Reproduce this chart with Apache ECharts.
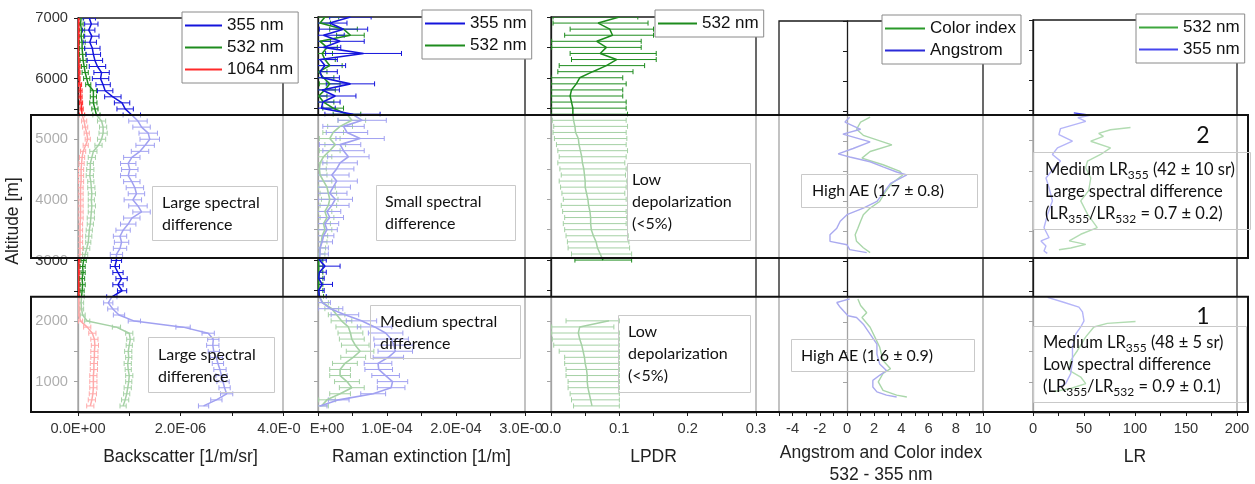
<!DOCTYPE html>
<html><head><meta charset="utf-8">
<script src="https://cdn.jsdelivr.net/npm/echarts@6/dist/echarts.min.js"></script>
<style>html,body{margin:0;padding:0;background:#fff}#c{width:1255px;height:484px}</style>
</head><body><div id="c"></div>
<script>
// ---------------- DATA ----------------
// altitude grid [m] for panels 1-2
const altA = [7000,6900,6800,6700,6600,6500,6400,6300,6200,6100,6000,5900,5800,5700,5600,5500,5400,5300,5200,5100,5000,4900,4800,4700,4600,4500,4400,4300,4200,4100,4000,3900,3800,3700,3600,3500,3400,3300,3200,3100,3000,2900,2800,2700,2600,2500,2400,2300,2200,2100,2000,1900,1800,1700,1600,1500,1400,1300,1200,1100,1000,900,800,700,600];
// backscatter [x1e-6 1/m/sr]
const bsc355 = [0.22,0.26,0.21,0.27,0.23,0.28,0.30,0.33,0.38,0.46,0.44,0.49,0.53,0.68,0.86,0.92,1.05,1.17,1.24,1.37,1.40,1.31,1.21,1.05,0.98,1.01,0.98,1.05,1.11,1.14,1.07,1.17,1.24,1.05,0.98,0.88,0.82,0.85,0.82,0.75,0.75,0.72,0.78,0.85,0.78,0.86,0.66,0.59,0.68,0.80,1.10,2.05,2.54,2.64,2.63,2.65,2.70,2.73,2.77,2.80,2.83,2.86,2.90,2.70,2.45];
const bsc355Err = [0.12,0.13,0.12,0.14,0.13,0.15,0.14,0.15,0.16,0.15,0.16,0.14,0.15,0.16,0.15,0.16,0.17,0.18,0.17,0.18,0.19,0.18,0.17,0.16,0.15,0.16,0.15,0.16,0.17,0.16,0.17,0.18,0.17,0.16,0.15,0.14,0.13,0.14,0.13,0.12,0.10,0.09,0.10,0.11,0.10,0.09,0.10,0.09,0.10,0.11,0.12,0.14,0.12,0.11,0.12,0.11,0.12,0.11,0.12,0.11,0.12,0.11,0.12,0.11,0.10];
const bsc532 = [0.06,0.05,0.07,0.06,0.08,0.08,0.09,0.10,0.12,0.14,0.17,0.20,0.30,0.30,0.30,0.33,0.36,0.46,0.49,0.49,0.46,0.40,0.30,0.27,0.24,0.24,0.23,0.25,0.26,0.27,0.26,0.27,0.26,0.25,0.24,0.22,0.21,0.20,0.17,0.14,0.11,0.09,0.10,0.08,0.09,0.08,0.07,0.06,0.07,0.09,0.18,0.75,1.00,1.02,1.00,0.98,0.99,0.97,0.98,1.00,0.99,0.97,0.95,0.92,0.88];
const bsc532Err = [0.05,0.05,0.06,0.05,0.06,0.05,0.06,0.06,0.05,0.06,0.06,0.05,0.06,0.06,0.07,0.06,0.07,0.08,0.07,0.08,0.08,0.07,0.07,0.07,0.06,0.07,0.07,0.06,0.07,0.07,0.06,0.07,0.06,0.07,0.06,0.06,0.06,0.05,0.06,0.05,0.05,0.05,0.04,0.05,0.05,0.04,0.05,0.05,0.04,0.05,0.05,0.08,0.07,0.07,0.06,0.07,0.06,0.07,0.06,0.07,0.06,0.07,0.06,0.07,0.06];
const bsc1064 = [0.01,0.01,0.01,0.01,0.01,0.01,0.01,0.015,0.02,0.02,0.02,0.04,0.05,0.05,0.06,0.07,0.08,0.12,0.14,0.17,0.19,0.15,0.10,0.08,0.07,0.06,0.06,0.06,0.05,0.05,0.05,0.05,0.05,0.05,0.04,0.04,0.04,0.04,0.04,0.04,0.02,0.015,0.015,0.015,0.015,0.015,0.015,0.015,0.02,0.02,0.05,0.18,0.28,0.32,0.33,0.32,0.32,0.31,0.31,0.30,0.30,0.30,0.29,0.27,0.24];
const bsc1064Err = [0.02,0.02,0.02,0.02,0.02,0.02,0.02,0.02,0.02,0.02,0.02,0.03,0.03,0.03,0.03,0.03,0.05,0.05,0.05,0.05,0.05,0.05,0.05,0.05,0.05,0.05,0.05,0.05,0.05,0.05,0.05,0.05,0.05,0.05,0.05,0.05,0.05,0.05,0.05,0.05,0.02,0.02,0.02,0.02,0.02,0.02,0.02,0.02,0.02,0.02,0.04,0.07,0.07,0.07,0.07,0.07,0.07,0.07,0.07,0.07,0.07,0.07,0.07,0.07,0.07];
// Raman extinction [x1e-5 1/m]
const ram355 = [4.7,1.7,3.7,0.8,3.2,0.8,6.6,0.3,1.0,0.3,0.6,4.7,0.6,2.5,0.7,0.5,5.0,6.4,3.7,4.2,6.1,3.2,3.7,4.4,3.2,2.7,2.0,2.7,2.2,1.7,2.5,2.0,1.3,1.7,1.0,1.3,0.8,0.6,0.3,0.3,0.2,1.0,0.2,0.1,0.6,0.1,0.2,0.6,1.8,3.9,6.3,8.2,9.8,10.6,11.0,11.2,10.2,8.7,8.8,9.8,10.8,10.6,8.0,3.0,0.3];
const ram355Err = [3.0,2.5,3.5,3.0,3.5,2.5,5.5,2.5,3.0,2.5,2.5,3.5,2.5,3.0,2.5,2.0,4.0,3.5,3.0,3.0,3.5,3.0,3.0,3.0,2.5,2.5,2.5,3.0,2.5,2.5,2.5,2.5,2.0,2.0,2.0,1.5,1.5,1.5,1.2,1.2,1.0,2.2,1.0,0.8,1.5,0.8,1.0,1.2,1.8,2.0,2.2,2.5,2.5,2.5,2.8,2.5,2.2,2.0,2.0,2.0,2.2,2.0,1.8,1.5,1.0];
const ram532 = [1.0,0.3,3.7,4.7,0.3,1.3,0.6,1.0,1.7,0.1,0.8,1.7,1.0,0.1,0.8,2.2,4.2,4.9,3.2,2.2,1.7,2.5,1.7,0.8,0.3,0.2,0.3,0.8,1.3,1.5,1.7,1.5,1.0,1.3,0.8,1.0,0.6,0.5,0.3,0.2,0.1,0.1,0.1,0.1,0.1,0.1,0.2,0.7,2.0,2.7,3.4,4.4,4.7,4.9,5.4,6.1,5.1,3.9,3.2,3.2,4.2,4.9,3.2,1.3,0.5];
const ram532Err = [2.0,1.5,2.0,2.0,1.5,1.5,1.5,1.5,1.8,1.2,1.5,1.5,1.5,1.2,1.5,1.5,2.0,2.0,1.8,1.5,1.5,1.5,1.5,1.2,1.0,1.0,1.0,1.2,1.2,1.2,1.2,1.2,1.0,1.0,1.0,1.0,0.8,0.8,0.8,0.8,0.6,0.6,0.6,0.6,0.6,0.6,0.6,0.8,1.0,1.2,1.5,1.8,1.8,1.8,2.0,2.0,1.8,1.8,1.5,1.5,1.8,1.8,1.5,1.2,1.0];
// LPDR 532 nm
const lpdrAltA = [7000,6900,6800,6700,6600,6500,6400,6300,6200,6100,6000,5900,5800,5700,5600,5500,5400,5300,5200,5100,5000,4900,4800,4700,4600,4500,4400,4300,4200,4100,4000,3900,3800,3700,3600,3500,3400,3300,3200,3100,3000];
const lpdrA = [0.100,0.069,0.086,0.090,0.067,0.081,0.072,0.096,0.081,0.061,0.042,0.037,0.030,0.028,0.030,0.032,0.032,0.033,0.035,0.036,0.040,0.041,0.043,0.045,0.046,0.048,0.049,0.050,0.050,0.052,0.054,0.055,0.057,0.058,0.058,0.059,0.062,0.066,0.068,0.072,0.076];
const lpdrLoA = [0.003,0.003,0.028,0.020,0.001,0.001,0.028,0.030,0.012,0.010,0.000,0.000,0.000,0.000,0.000,0.000,0.000,0.002,0.004,0.003,0.005,0.008,0.010,0.012,0.010,0.013,0.015,0.012,0.014,0.016,0.018,0.015,0.017,0.020,0.018,0.020,0.022,0.024,0.025,0.030,0.035];
const lpdrHiA = [0.127,0.142,0.150,0.150,0.132,0.132,0.154,0.154,0.137,0.120,0.105,0.110,0.105,0.105,0.110,0.110,0.112,0.110,0.112,0.110,0.111,0.110,0.112,0.110,0.108,0.110,0.109,0.111,0.110,0.108,0.110,0.112,0.110,0.111,0.110,0.112,0.113,0.114,0.115,0.118,0.118];
const lpdrAltB = [2000,1900,1800,1700,1600,1500,1400,1300,1200,1100,1000,900,800,700,600];
const lpdrB = [0.085,0.042,0.040,0.042,0.045,0.047,0.049,0.050,0.052,0.053,0.053,0.054,0.056,0.058,0.060];
const lpdrLoB = [0.022,0.001,0.001,0.002,0.004,0.012,0.020,0.020,0.022,0.022,0.025,0.025,0.028,0.030,0.033];
const lpdrHiB = [0.100,0.092,0.100,0.100,0.100,0.100,0.100,0.100,0.100,0.100,0.100,0.100,0.100,0.100,0.100];
// Angstrom exponent and colour index (532-355 nm)
const ae2Alt = [5400,5320,5200,5120,4990,4880,4790,4740,4660,4575,4490,4440,4300,4150,4000,3890,3780,3670,3556,3447,3337,3280,3200,3150];
const ae2 = [0.2,-0.15,1.0,-0.3,1.7,0.45,-0.65,0.2,1.7,2.65,3.65,4.4,3.2,2.7,2.2,1.2,0.0,-0.5,-0.75,-1.25,-1.25,0.0,0.2,1.45];
const ci2Alt = [5400,5320,5200,5100,4940,4830,4720,4610,4500,4440,4300,4150,4000,3890,3780,3670,3556,3447,3337,3230,3150];
const ci2 = [1.7,1.0,0.7,1.2,3.3,1.7,1.1,2.65,3.9,4.1,3.3,2.8,2.4,1.7,1.2,1.0,0.8,0.6,0.7,1.2,1.7];
const ae1Alt = [2380,2320,2240,2100,2070,1960,1795,1630,1465,1300,1190,1110,1025,915,835,780,750];
const ae1 = [0.2,-0.75,-0.5,0.07,0.7,1.2,1.7,2.2,2.2,2.4,2.9,2.4,1.9,1.9,2.2,2.9,3.65];
const ci1Alt = [2380,2270,2150,2070,1910,1745,1580,1355,1220,1140,1000,860,780,750];
const ci1 = [0.8,1.0,1.45,1.1,1.7,2.05,2.4,2.65,3.2,2.65,2.3,2.65,3.65,4.4];
// Lidar ratio [sr]
const lr355Alt = [5460,5420,5380,5320,5200,5100,4990,4880,4770,4660,4550,4380,4215,4000,3780,3556,3390,3337,3254,3170,3130];
const lr355 = [40,56,44,51.7,27,25.4,38.7,24,19,27,20.8,12.7,15.8,19,14.3,10.8,15.8,7.8,12.7,10.8,14];
const lr532Alt = [5218,5180,5120,5070,4990,4880,4770,4660,4550,4380,4170,4000,3780,3556,3447,3337,3280,3220,3190];
const lr532 = [95.6,76,64.4,69,56.6,76,66.3,53.4,51.7,56.6,54.6,46.8,53.4,63,46.8,35.5,51.7,37,25.4];
const lr355bAlt = [2400,2320,2240,2160,2010,1910,1795,1580,1357,1137,970,890];
const lr355b = [14.3,30,45,48.5,50,46.8,42,38.7,38.7,37,32,24];
const lr532bAlt = [2000,1970,1910,1745,1520,1357,1190,1080,970,890,840];
const lr532b = [100.5,72.8,59.7,51.7,43.6,37,35.5,46.8,51.7,37,20.8];
// aerosol layers [m]
const layerTop = [2400, 5400];
const layerBottom = [500, 3040];
const layerNames = ['1', '2'];

// ---------------- CHART ----------------
const FONT = 'Liberation Sans, Arial, sans-serif';
const ANN = 'Lato, sans-serif';
const BLUE = '#1414dc', GREEN = '#1e8c1e', RED = '#ff2a2a';
const chart = echarts.init(document.getElementById('c'), null, {renderer: 'canvas'});

const gridDefs = [
  {left: 78, top: 18, width: 205, height: 394},
  {left: 318, top: 17, width: 207, height: 395},
  {left: 551, top: 17, width: 205, height: 395},
  {left: 779, top: 21, width: 204, height: 391},
  {left: 1033, top: 20, width: 204, height: 392}
];
const grids = gridDefs.map(g => Object.assign({show: true, borderColor: '#1a1a1a', borderWidth: 1.3, backgroundColor: 'transparent', containLabel: false, outerBoundsMode: 'none'}, g));

const lab = {fontSize: 14.7, fontFamily: FONT, color: '#333'};
const ttl = {fontSize: 17.5, fontFamily: FONT, color: '#222'};
function xAx(i, min, max, interval, formatter, name, extra) {
  return Object.assign({
    gridIndex: i, type: 'value', min, max, interval, position: 'bottom',
    axisLine: {show: true, lineStyle: {color: '#1a1a1a', width: 1.3}},
    axisTick: {show: true, inside: false, length: 4, lineStyle: {color: '#1a1a1a'}},
    splitLine: {show: false},
    axisLabel: Object.assign({margin: 9, formatter, rich: {
      l: Object.assign({padding: [0, 8, 0, 0]}, lab),
      r: Object.assign({padding: [0, 0, 0, 18]}, lab)
    }}, lab),
    name, nameLocation: 'middle', nameGap: 36,
    nameTextStyle: ttl
  }, extra || {});
}
const xAxes = [
  xAx(0, 0, 4, 1, v => { const k = Math.round(v); return k === 0 ? '0.0E+00' : k === 2 ? '2.0E-06' : k === 4 ? '{l|4.0E-0}' : ''; }, 'Backscatter [1/m/sr]'),
  xAx(1, 0, 30, 5, v => { const k = Math.round(v); return k === 0 ? '{r|E+00}' : k === 10 ? '1.0E-04' : k === 20 ? '2.0E-04' : k === 30 ? '{l|3.0E-0}' : ''; }, 'Raman extinction [1/m]'),
  xAx(2, 0, 0.3, 0.05, v => { const k = Math.round(v * 100); return k % 10 === 0 ? (k / 100).toFixed(1) : ''; }, 'LPDR'),
  xAx(3, -5, 10, 1, v => { const k = Math.round(v); return k % 2 === 0 ? String(k) : ''; }, 'Angstrom and Color index\n532 - 355 nm',
      {nameGap: 30, nameTextStyle: Object.assign({lineHeight: 22}, ttl)}),
  xAx(4, 0, 200, 25, v => { const k = Math.round(v); return k % 50 === 0 ? String(k) : ''; }, 'LR')
];
const yAxes = [0, 1, 2, 3, 4].map(i => ({
  gridIndex: i, type: 'value', min: 500, max: 7000, interval: 500,
  axisLine: {show: true, lineStyle: {color: '#1a1a1a', width: 1.3}},
  axisTick: {show: true, inside: false, length: 4, lineStyle: {color: '#1a1a1a'}},
  splitLine: {show: false},
  axisLabel: Object.assign({show: i === 0, margin: 10, formatter: v => (Math.round(v) % 1000 === 0 ? String(Math.round(v)) : '')}, lab),
  name: i === 0 ? 'Altitude [m]' : '', nameLocation: 'middle', nameGap: 56, nameRotate: 90,
  nameTextStyle: Object.assign({padding: [0, 12, 0, 0]}, ttl)
}));

function lineS(xi, name, alts, vals, color, width) {
  return {type: 'line', name, xAxisIndex: xi, yAxisIndex: xi, data: vals.map((v, i) => [v, alts[i]]),
    symbol: 'none', showSymbol: false, lineStyle: {color, width: width || 1.5}, itemStyle: {color},
    z: 3, animation: false, clip: true, silent: true};
}
function errS(xi, alts, lows, highs, color) {
  return {type: 'custom', name: 'err', xAxisIndex: xi, yAxisIndex: xi, clip: true, z: 2, silent: true, animation: false,
    data: alts.map((a, i) => [a, lows[i], highs[i]]),
    encode: {x: [1, 2], y: 0},
    renderItem: (params, api) => {
      const a = api.value(0), lo = api.value(1), hi = api.value(2);
      const p1 = api.coord([lo, a]), p2 = api.coord([hi, a]);
      const c = 2.5, st = {stroke: color, lineWidth: 1};
      return {type: 'group', children: [
        {type: 'line', shape: {x1: p1[0], y1: p1[1], x2: p2[0], y2: p2[1]}, style: st},
        {type: 'line', shape: {x1: p1[0], y1: p1[1] - c, x2: p1[0], y2: p1[1] + c}, style: st},
        {type: 'line', shape: {x1: p2[0], y1: p2[1] - c, x2: p2[0], y2: p2[1] + c}, style: st}
      ]};
    }};
}
const sub = (v, e) => v.map((x, i) => x - e[i]);
const add = (v, e) => v.map((x, i) => x + e[i]);

const series = [
  errS(0, altA, sub(bsc1064, bsc1064Err), add(bsc1064, bsc1064Err), RED),
  errS(0, altA, sub(bsc532, bsc532Err), add(bsc532, bsc532Err), GREEN),
  errS(0, altA, sub(bsc355, bsc355Err), add(bsc355, bsc355Err), BLUE),
  lineS(0, '1064 nm', altA, bsc1064, RED),
  lineS(0, '532 nm', altA, bsc532, GREEN),
  lineS(0, '355 nm', altA, bsc355, BLUE),
  errS(1, altA, sub(ram532, ram532Err), add(ram532, ram532Err), GREEN),
  errS(1, altA, sub(ram355, ram355Err), add(ram355, ram355Err), BLUE),
  lineS(1, '532 nm', altA, ram532, GREEN, 1.6),
  lineS(1, '355 nm', altA, ram355, BLUE, 1.6),
  errS(2, lpdrAltA, lpdrLoA, lpdrHiA, GREEN),
  errS(2, lpdrAltB, lpdrLoB, lpdrHiB, GREEN),
  lineS(2, '532 nm', lpdrAltA, lpdrA, GREEN),
  lineS(2, '532 nm', lpdrAltB, lpdrB, GREEN),
  lineS(3, 'Color index', ci2Alt, ci2, '#2a9a2a', 1.4),
  lineS(3, 'Color index', ci1Alt, ci1, '#2a9a2a', 1.4),
  lineS(3, 'Angstrom', ae2Alt, ae2, '#2b2bd8', 1.4),
  lineS(3, 'Angstrom', ae1Alt, ae1, '#2b2bd8', 1.4),
  lineS(4, '532 nm', lr532Alt, lr532, '#3fa73f', 1.4),
  lineS(4, '532 nm', lr532bAlt, lr532b, '#3fa73f', 1.4),
  lineS(4, '355 nm', lr355Alt, lr355, '#4646ee', 1.4),
  lineS(4, '355 nm', lr355bAlt, lr355b, '#4646ee', 1.4)
];

function legendAt(left, top, items, itemWidth) {
  return {
    show: true, orient: 'vertical', left, top, z: 100, selectedMode: false,
    backgroundColor: '#fff', borderColor: '#8a8a8a', borderWidth: 1, borderRadius: 0,
    padding: [4, 5, 4, 3], itemWidth: itemWidth || 38, itemHeight: 2, itemGap: 3, itemTextGap: 6,
    icon: 'rect',
    textStyle: {fontSize: 17, fontFamily: FONT, color: '#111', lineHeight: 19},
    data: items.map(it => ({name: it[0], icon: 'rect', itemStyle: {color: it[1], borderWidth: 0}}))
  };
}
const legends = [
  legendAt(182, 12, [['355 nm', BLUE], ['532 nm', GREEN], ['1064 nm', RED]], 37),
  legendAt(422, 10, [['355 nm', BLUE], ['532 nm', GREEN]], 40),
  legendAt(655, 10, [['532 nm', GREEN]], 39),
  legendAt(882, 15, [['Color index', '#2a9a2a'], ['Angstrom', '#2b2bd8']], 40),
  legendAt(1136, 14, [['532 nm', '#3fa73f'], ['355 nm', '#4646ee']], 39)
];

chart.setOption({
  animation: false,
  textStyle: {fontFamily: FONT},
  grid: grids, xAxis: xAxes, yAxis: yAxes, legend: legends, series
});

// overlays for aerosol layers + annotations
const py = a => chart.convertToPixel({yAxisIndex: 0}, a);
const els = [];
for (let i = 0; i < layerTop.length; i++) {
  const yT = py(layerTop[i]), yB = py(layerBottom[i]);
  els.push({type: 'rect', z: 50, silent: true, shape: {x: 31, y: yT, width: 1217, height: yB - yT},
    style: {fill: 'rgba(255,255,255,0.6)', stroke: '#111', lineWidth: 2}});
}
const boxes = [
  [152, 186, 125, 54], [148, 337, 126, 55], [376, 185, 139, 55], [370, 305, 150, 53],
  [627, 163, 123, 77], [618, 315, 132, 77], [801, 174, 176, 33], [791, 339, 183, 32],
  [1033, 152, 217, 77], [1033, 326, 213, 76]
];
boxes.forEach(b => els.push({type: 'rect', z: 60, silent: true, shape: {x: b[0] + 0.5, y: b[1] + 0.5, width: b[2], height: b[3]},
  style: {fill: 'none', stroke: '#c9c9c9', lineWidth: 1}}));
const rich = {s: {fontSize: 12, fontFamily: ANN, fill: '#111', verticalAlign: 'bottom', lineHeight: 12}};
const texts = [
  [162, 203, 'Large spectral\ndifference', 16],
  [158, 355, 'Large spectral\ndifference', 16],
  [385, 202, 'Small spectral\ndifference', 16],
  [380, 322, 'Medium spectral\ndifference', 16],
  [632, 180, 'Low\ndepolarization\n(<5%)', 16],
  [628, 332, 'Low\ndepolarization\n(<5%)', 16],
  [812, 191, 'High AE (1.7 ± 0.8)', 16],
  [801, 356, 'High AE (1.6 ± 0.9)', 16],
  [1045, 170, 'Medium LR{s|355} (42 ± 10 sr)\nLarge spectral difference\n(LR{s|355}/LR{s|532} = 0.7 ± 0.2)', 16.5],
  [1043, 343, 'Medium LR{s|355} (48 ± 5 sr)\nLow spectral difference\n(LR{s|355}/LR{s|532} = 0.9 ± 0.1)', 16.5]
];
texts.forEach(t => els.push({type: 'text', z: 61, silent: true, x: t[0], y: t[1] - 11,
  style: {text: t[2], fontSize: t[3], fontFamily: ANN, fill: '#111', lineHeight: 22,
    align: 'left', verticalAlign: 'top', textAlign: 'left', textVerticalAlign: 'top', rich}}));
[[1203, 136, layerNames[1]], [1203, 317, layerNames[0]]].forEach(t => els.push({type: 'text', z: 61, silent: true, x: t[0], y: t[1],
  style: {text: t[2], fontSize: 23, fontFamily: ANN, fill: '#111', align: 'center', verticalAlign: 'middle', textAlign: 'center', textVerticalAlign: 'middle'}}));
chart.setOption({graphic: {elements: els}});
</script></body></html>
